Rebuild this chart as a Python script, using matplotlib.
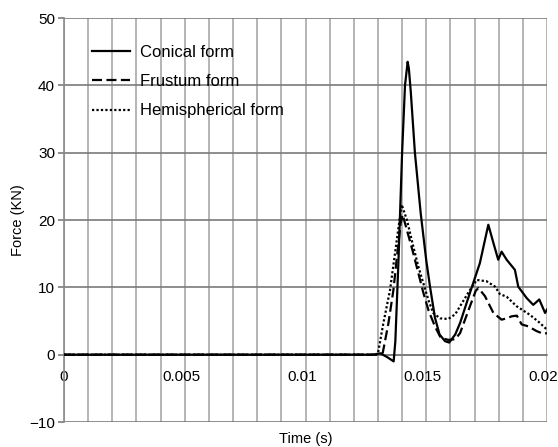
import matplotlib
matplotlib.use("Agg")
import matplotlib.pyplot as plt
import matplotlib.transforms as mtransforms
from matplotlib.ticker import MultipleLocator

plt.rcParams['font.family'] = ['Liberation Sans', 'DejaVu Sans']

# force-time curves
t_conical = [0, 0.0128, 0.0131, 0.0134, 0.01365, 0.01372, 0.01385, 0.01400,
             0.01412, 0.01423, 0.01428, 0.01436, 0.01453, 0.01477, 0.01500,
             0.01516, 0.01536, 0.01555, 0.01578, 0.01595, 0.0162, 0.0164,
             0.01681, 0.01722, 0.01757, 0.01778, 0.01798, 0.01812, 0.01833,
             0.01867, 0.01881, 0.01916, 0.01943, 0.01968, 0.01992, 0.0200]
f_conical = [0, 0, 0.2, -0.4, -1.0, 2.0, 14.0, 30.0,
             40.0, 43.5, 42.5, 39.0, 30.0, 21.0, 14.0,
             10.0, 5.5, 3.0, 2.0, 1.8, 3.0, 4.7,
             9.2, 13.6, 19.3, 16.6, 14.1, 15.3, 14.1,
             12.6, 10.1, 8.4, 7.4, 8.2, 6.2, 6.7]

t_frustum = [0, 0.0131, 0.0132, 0.01343, 0.01364, 0.0138, 0.01394, 0.01402,
             0.0142, 0.01446, 0.01468, 0.01488, 0.0151, 0.01536, 0.0156,
             0.01591, 0.0162, 0.0164, 0.01681, 0.01705, 0.01716, 0.01743,
             0.01778, 0.01812, 0.01833, 0.01854, 0.01875, 0.01895, 0.01923,
             0.01957, 0.01985, 0.0200]
f_frustum = [0, 0, 0.3, 4.6, 9.6, 15.0, 19.5, 20.8,
             18.5, 15.1, 12.0, 9.2, 6.5, 4.2, 2.5,
             2.2, 2.3, 3.2, 7.2, 9.5, 9.9, 8.7,
             6.2, 5.2, 5.4, 5.7, 5.8, 4.5, 4.2,
             3.5, 3.1, 3.2]

t_hemi = [0, 0.0129, 0.0130, 0.01322, 0.0135, 0.01378, 0.01398, 0.0142,
          0.01446, 0.01468, 0.01488, 0.0151, 0.01529, 0.01557, 0.01591,
          0.0162, 0.0164, 0.01681, 0.01709, 0.0175, 0.01785, 0.01805,
          0.01833, 0.01874, 0.0193, 0.01971, 0.0200]
f_hemi = [0, 0, 0.2, 4.6, 9.6, 17.0, 22.3, 20.0,
          16.1, 13.0, 10.6, 8.0, 6.2, 5.4, 5.3,
          6.0, 7.2, 9.6, 11.1, 10.9, 10.1, 9.0,
          8.6, 7.2, 5.9, 4.7, 3.7]

x_ticks = [0, 0.005, 0.01, 0.015, 0.02]
x_labels = ['0', '0.005', '0.01', '0.015', '0.02']
y_ticks = [-10, 0, 10, 20, 30, 40, 50]

fig = plt.figure(figsize=(5.58, 4.47), dpi=100)
ax = fig.add_axes([0.1147, 0.0559, 0.8656, 0.9038])

ax.set_xlim(0, 0.02)
ax.set_ylim(-10, 50)

# grid: light vertical every 0.001, darker horizontal every 10
ax.xaxis.set_minor_locator(MultipleLocator(0.001))
ax.set_xticks(x_ticks)
ax.set_xticklabels(x_labels)
ax.set_yticks(y_ticks)
ax.grid(True, which='both', axis='x', color='#a8a8a8', linewidth=1.2)
ax.grid(True, which='major', axis='y', color='#7a7a7a', linewidth=1.2)
ax.set_axisbelow(True)

for side in ['top', 'right']:
    ax.spines[side].set_visible(False)
ax.spines['left'].set_color('#8a8a8a')
ax.spines['left'].set_linewidth(1.2)
ax.spines['bottom'].set_position(('data', 0))
ax.spines['bottom'].set_color('#7a7a7a')
ax.spines['bottom'].set_linewidth(1.2)

ax.tick_params(axis='x', which='both', length=0, pad=11, labelsize=11)
ax.tick_params(axis='y', length=4.5, width=1.2, color='#7a7a7a', pad=2, labelsize=11)

# x labels sit a few pixels left of their grid line in the reference
shift = mtransforms.ScaledTranslation(-0.035, 0, fig.dpi_scale_trans)
for lbl in ax.get_xticklabels()[1:]:
    lbl.set_transform(lbl.get_transform() + shift)

ax.plot(t_hemi, f_hemi, color='black', linewidth=1.6, linestyle=(0, (1, 1)),
        label='Hemispherical form', zorder=3)
ax.plot(t_frustum, f_frustum, color='black', linewidth=1.6, linestyle=(0, (4.5, 2)),
        label='Frustum form', zorder=4)
ax.plot(t_conical, f_conical, color='black', linewidth=1.6,
        label='Conical form', zorder=5)

handles, labels = ax.get_legend_handles_labels()
ax.legend(handles[::-1], labels[::-1], loc='upper left', frameon=False,
          bbox_to_anchor=(0.027, 0.97), handlelength=2.3, handletextpad=0.6,
          labelspacing=0.85, fontsize=12)

ax.set_xlabel('Time (s)', fontsize=10.5, labelpad=0)
ax.xaxis.set_label_coords(0.5, -0.025)
ax.set_ylabel('Force (KN)', fontsize=10.5, labelpad=3)

fig.savefig('out.png', dpi=100)
